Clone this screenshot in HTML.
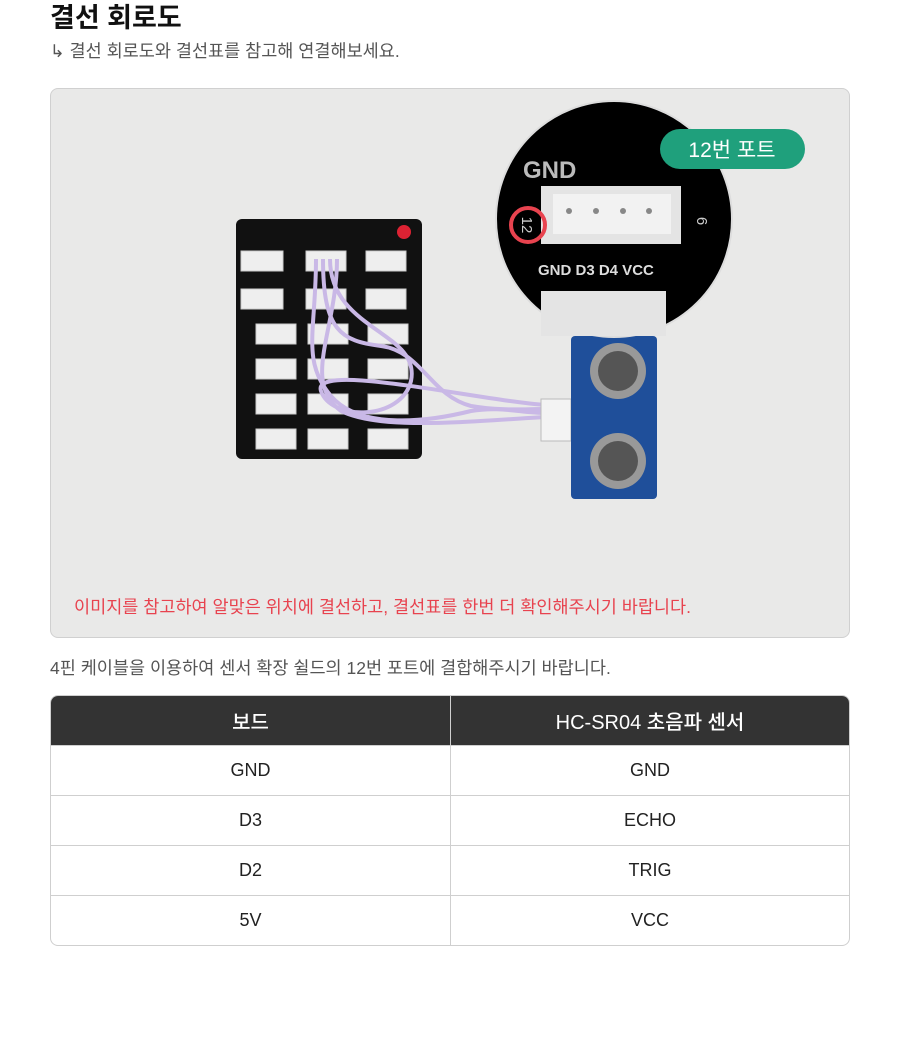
<!DOCTYPE html>
<html><head><meta charset="utf-8"><style>
*{margin:0;padding:0;box-sizing:border-box}
body{width:900px;height:1045px;background:#fff;font-family:"Liberation Sans","Noto Sans CJK KR",sans-serif;position:relative;overflow:hidden}
.a{position:absolute}
h1{position:absolute;left:50px;top:-4px;font-size:27px;font-weight:700;color:#111}
.sub{left:50px;top:38px;font-size:17.5px;color:#555}
.photo{left:50px;top:88px;width:800px;height:550px;background:#e9e9e8;border:1px solid #d0d0d0;border-radius:8px;overflow:hidden}
.desc{left:50px;top:655px;font-size:17.5px;color:#555}
table{position:absolute;left:50px;top:695px;width:800px;border-collapse:separate;border-spacing:0;border:1px solid #cfcfcf;border-radius:8px;overflow:hidden;font-size:18px}
th{background:#333;color:#fff;height:49px;font-weight:500;font-size:20px}
td{height:50px;text-align:center;color:#222;border-top:1px solid #cfcfcf}
td:first-child,th:first-child{border-right:1px solid #cfcfcf;width:400px}
</style></head><body>
<h1>결선 회로도</h1>
<div class="a sub">↳ 결선 회로도와 결선표를 참고해 연결해보세요.</div>
<div class="a photo">
<svg width="800" height="550" viewBox="50 88 800 550" style="position:absolute;left:0;top:0">
<rect x="235" y="218" width="186" height="240" rx="6" fill="#111"/>
<circle cx="403" cy="231" r="7" fill="#d23"/>
<g fill="#eee" stroke="#ccc">
<rect x="240" y="250" width="42" height="20"/><rect x="305" y="250" width="40" height="20"/><rect x="365" y="250" width="40" height="20"/>
<rect x="240" y="288" width="42" height="20"/><rect x="305" y="288" width="40" height="20"/><rect x="365" y="288" width="40" height="20"/>
<rect x="255" y="323" width="40" height="20"/><rect x="307" y="323" width="40" height="20"/><rect x="367" y="323" width="40" height="20"/>
<rect x="255" y="358" width="40" height="20"/><rect x="307" y="358" width="40" height="20"/><rect x="367" y="358" width="40" height="20"/>
<rect x="255" y="393" width="40" height="20"/><rect x="307" y="393" width="40" height="20"/><rect x="367" y="393" width="40" height="20"/>
<rect x="255" y="428" width="40" height="20"/><rect x="307" y="428" width="40" height="20"/><rect x="367" y="428" width="40" height="20"/>
</g>
<g fill="none" stroke="#c9b8e6" stroke-width="4">
<path d="M315 258 C315 330 300 360 330 395 C360 430 430 420 470 410 C500 405 520 412 545 412"/>
<path d="M322 258 C322 330 340 340 380 345 C420 350 430 395 470 405 C500 410 520 408 545 408"/>
<path d="M329 258 C329 330 420 330 410 380 C400 420 330 420 320 390 C310 360 480 400 545 404"/>
<path d="M336 258 C336 330 300 380 340 410 C380 430 470 420 545 416"/>
</g>
<rect x="540" y="398" width="30" height="42" fill="#f3f3f3" stroke="#bbb"/>
<rect x="570" y="335" width="86" height="163" rx="4" fill="#1f4f9a"/>
<circle cx="617" cy="370" r="28" fill="#999"/><circle cx="617" cy="370" r="20" fill="#555"/>
<circle cx="617" cy="460" r="28" fill="#999"/><circle cx="617" cy="460" r="20" fill="#555"/>
<circle cx="613" cy="218" r="118" fill="#000" stroke="#ddd" stroke-width="2"/>
<rect x="540" y="185" width="140" height="58" fill="#e4e4e4"/>
<rect x="552" y="193" width="118" height="40" fill="#f2f2f2"/>
<g fill="#888"><circle cx="568" cy="210" r="3"/><circle cx="595" cy="210" r="3"/><circle cx="622" cy="210" r="3"/><circle cx="648" cy="210" r="3"/>
</g>
<rect x="540" y="290" width="125" height="45" fill="#e4e4e4"/>
<circle cx="527" cy="224" r="17" fill="none" stroke="#e8434f" stroke-width="4"/>
<text x="527" y="230" font-size="15" fill="#ccc" text-anchor="middle" transform="rotate(90 527 224)">12</text>
<text x="700" y="224" font-size="15" fill="#ccc" text-anchor="middle" transform="rotate(90 700 220)">6</text>
<text x="522" y="177" font-size="24" font-weight="700" fill="#bbb">GND</text>
<text x="537" y="274" font-size="15" font-weight="700" fill="#ddd">GND  D3  D4 VCC</text>
<rect x="659" y="128" width="145" height="40" rx="20" fill="#1fa07c"/>
<text x="731" y="156" font-size="21" fill="#fff" text-anchor="middle" font-family="Liberation Sans,Noto Sans CJK KR,sans-serif">12번 포트</text>
</svg>
<div class="a" style="left:23px;top:505px;font-size:17.5px;color:#e8434f">이미지를 참고하여 알맞은 위치에 결선하고, 결선표를 한번 더 확인해주시기 바랍니다.</div>
</div>
<div class="a desc">4핀 케이블을 이용하여 센서 확장 쉴드의 12번 포트에 결합해주시기 바랍니다.</div>
<table>
<tr><th>보드</th><th>HC-SR04 초음파 센서</th></tr>
<tr><td>GND</td><td>GND</td></tr>
<tr><td>D3</td><td>ECHO</td></tr>
<tr><td>D2</td><td>TRIG</td></tr>
<tr><td>5V</td><td>VCC</td></tr>
</table>
</body></html>
